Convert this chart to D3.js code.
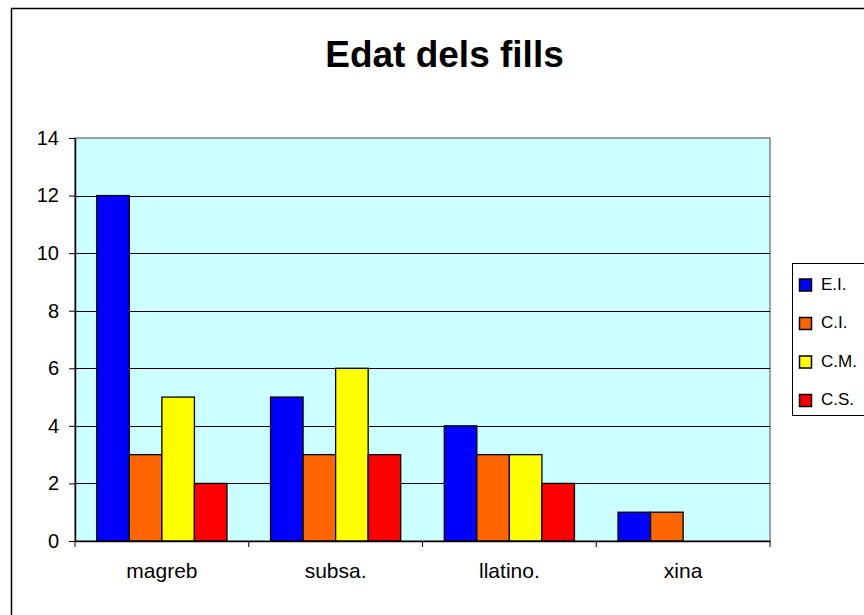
<!DOCTYPE html>
<html><head><meta charset="utf-8">
<script src="https://cdn.jsdelivr.net/npm/d3@7"></script>
<style>body{margin:0;background:#fff}svg{display:block;font-family:Arial,"Liberation Sans",sans-serif}</style>
</head><body><svg id="c" width="864" height="615"></svg>
<script>
const categories = ["magreb","subsa.","llatino.","xina"];
const seriesNames = ["E.I.","C.I.","C.M.","C.S."];
const seriesColors = ["#0000FF","#FF6600","#FFFF00","#FF0000"];
const valuesEI = [12,5,4,1];
const valuesCI = [3,3,3,1];
const valuesCM = [5,6,3,0];
const valuesCS = [2,3,2,0];
const yTicks = [0,2,4,6,8,10,12,14];
const title = "Edat dels fills";

const seriesValues = [valuesEI, valuesCI, valuesCM, valuesCS];
const svg = d3.select("#c");
const L=75, R=770, T=138, B=541;
const FONT = "Arial, 'Liberation Sans', sans-serif";

svg.append("rect").attr("x",11.5).attr("y",8.5).attr("width",900).attr("height",700)
  .attr("fill","#fff").attr("stroke","#000").attr("stroke-width",1.5);

svg.append("text").attr("x",444.5).attr("y",67).attr("text-anchor","middle")
  .attr("font-size",37).attr("font-weight","bold").attr("font-family",FONT).text(title);

const y = d3.scaleLinear().domain([0,14]).range([B,T]);
const x0 = d3.scaleBand().domain(categories).range([L,R]).paddingInner(0).paddingOuter(0);
const x1 = d3.scaleBand().domain(seriesNames).range([0,x0.bandwidth()]).paddingInner(0).paddingOuter(0.67);

svg.append("rect").attr("x",L).attr("y",T).attr("width",R-L).attr("height",B-T)
  .attr("fill","#CCFFFF").attr("stroke","#808080").attr("stroke-width",1.5);

svg.append("g").selectAll("line").data(yTicks.filter(d=>d>0 && d<14)).join("line")
  .attr("x1",L).attr("x2",R).attr("y1",d=>Math.round(y(d))+0.5).attr("y2",d=>Math.round(y(d))+0.5)
  .attr("stroke","#000").attr("stroke-width",1);

const rows = categories.map((c,i)=>({cat:c, vals:seriesNames.map((s,j)=>({s, j, v:seriesValues[j][i]}))}));
const g = svg.append("g");
rows.forEach(r=>{
  g.selectAll(null).data(r.vals.filter(d=>d.v>0)).join("rect")
    .attr("x",d=>x0(r.cat)+x1(d.s)).attr("y",d=>y(d.v))
    .attr("width",x1.bandwidth()).attr("height",d=>y(0)-y(d.v))
    .attr("fill",d=>seriesColors[d.j]).attr("stroke","#000").attr("stroke-width",1.3);
});

const yAxis = svg.append("g").attr("transform",`translate(${L},0)`)
  .call(d3.axisLeft(y).tickValues(yTicks).tickSize(6).tickPadding(10).tickSizeOuter(0));
yAxis.attr("font-size",null).attr("font-family",null);
yAxis.select(".domain").attr("stroke","#000").attr("stroke-width",1.5);
yAxis.selectAll("line").attr("stroke","#000");
yAxis.selectAll("text").attr("font-size",20).attr("fill","#000").attr("font-family",FONT);

const xAxis = svg.append("g").attr("transform",`translate(0,${B})`)
  .call(d3.axisBottom(x0).tickSize(0).tickPadding(22));
xAxis.attr("font-size",null).attr("font-family",null);
xAxis.select(".domain").attr("stroke","#000").attr("stroke-width",1.5);
xAxis.selectAll("text").attr("font-size",21).attr("fill","#000").attr("font-family",FONT);
const bounds = categories.map(c=>x0(c)).concat([R]);
svg.append("g").selectAll("line").data(bounds).join("line")
  .attr("x1",d=>d).attr("x2",d=>d).attr("y1",B).attr("y2",B+6).attr("stroke","#000");

const lg = svg.append("g");
lg.append("rect").attr("x",792.5).attr("y",263.5).attr("width",100).attr("height",152)
  .attr("fill","#fff").attr("stroke","#000");
seriesNames.forEach((s,i)=>{
  const yy = 285 + i*38.5;
  lg.append("rect").attr("x",799.5).attr("y",yy-6).attr("width",12).attr("height",12)
    .attr("fill",seriesColors[i]).attr("stroke","#000").attr("stroke-width",1.5);
  lg.append("text").attr("x",821).attr("y",yy+4.5).attr("font-size",17).attr("font-family",FONT).text(s);
});
</script></body></html>
